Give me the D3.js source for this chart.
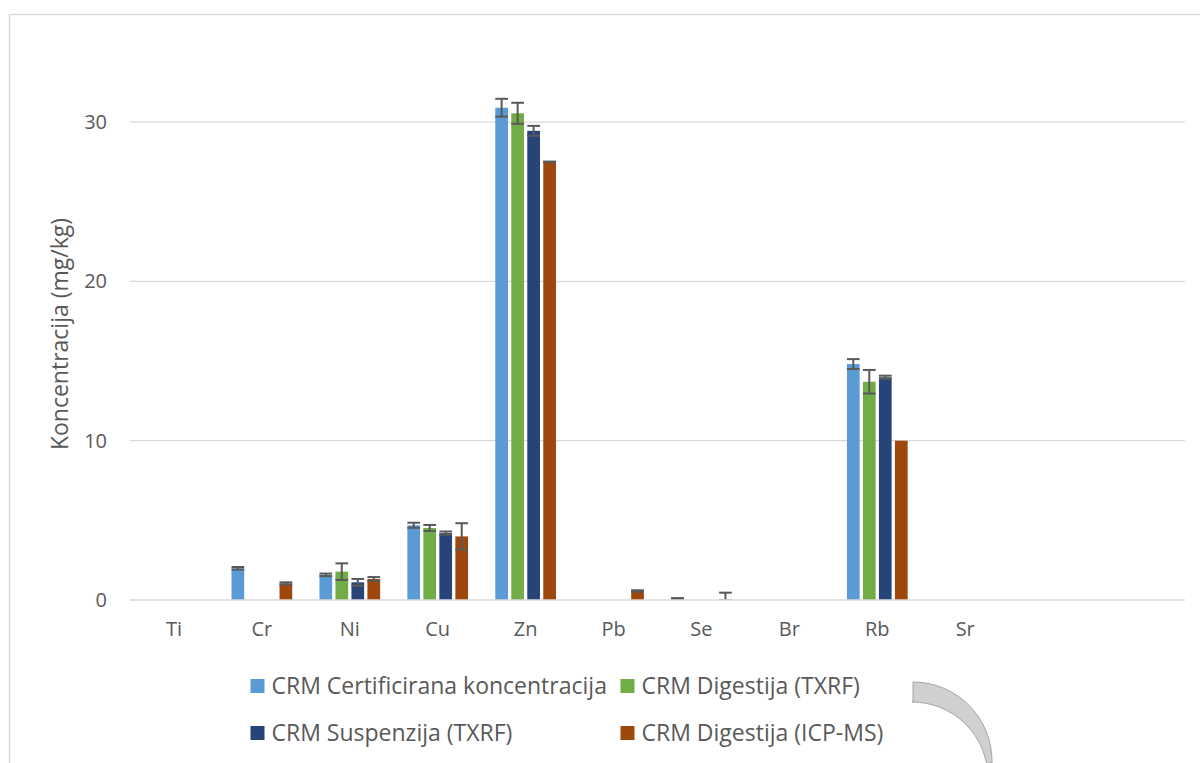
<!DOCTYPE html>
<html><head><meta charset="utf-8">
<script src="https://cdn.jsdelivr.net/npm/d3@7"></script>
<style>html,body{margin:0;padding:0;background:#fff;}svg{display:block;}</style>
</head><body>
<script>
// ---- data ----
const categories = ["Ti","Cr","Ni","Cu","Zn","Pb","Se","Br","Rb","Sr","",""];
const seriesNames = ["CRM Certificirana koncentracija","CRM Digestija (TXRF)","CRM Suspenzija (TXRF)","CRM Digestija (ICP-MS)"];
const certified     = [0, 1.99, 1.58, 4.69, 30.9, 0, 0.1, 0, 14.81, 0, null, null];
const certifiedErr  = [0, 0.08, 0.08, 0.16, 0.56, 0, 0.02, 0, 0.31, 0, null, null];
const digestTXRF    = [0, 0, 1.78, 4.52, 30.55, 0, 0, 0, 13.7, 0, null, null];
const digestTXRFErr = [0, 0, 0.52, 0.19, 0.66, 0, 0, 0, 0.74, 0, null, null];
const suspension    = [0, 0, 1.11, 4.2, 29.45, 0, 0, 0, 13.98, 0, null, null];
const suspensionErr = [0, 0, 0.21, 0.1, 0.31, 0, 0, 0, 0.1, 0, null, null];
const icpms         = [0, 1.04, 1.32, 3.99, 27.5, 0.57, 0.04, 0, 10.0, 0, null, null];
const icpmsErr      = [0, 0.07, 0.12, 0.83, 0.02, 0.04, 0.42, 0, 0, 0, null, null];
const yTicks = [0, 10, 20, 30];
const colors = ["#5B9BD5","#70AD47","#264478","#9E480E"];

const values = [certified, digestTXRF, suspension, icpms];
const errors = [certifiedErr, digestTXRFErr, suspensionErr, icpmsErr];

// ---- layout ----
const W = 1200, H = 763;
const plot = {left: 130, right: 1185, top: 42.4, bottom: 600};
const svg = d3.select("body").append("svg").attr("width", W).attr("height", H);
const font = "'Open Sans', sans-serif";
const textColor = "#595959";

// chart border
svg.append("path").attr("d", "M9.5," + H + "V14.5H" + W)
  .attr("fill","none").attr("stroke","#d9d9d9").attr("stroke-width",1.5);

const x0 = d3.scaleBand().domain(d3.range(categories.length)).range([plot.left, plot.right]).padding(0);
const groupW = 60.7;
const x1 = d3.scaleBand().domain(d3.range(seriesNames.length)).range([0, groupW]).paddingInner(0.206).paddingOuter(0);
const y = d3.scaleLinear().domain([0, 35]).range([plot.bottom, plot.top]);

// gridlines
svg.append("g").selectAll("line").data(yTicks.filter(t => t > 0)).join("line")
  .attr("x1", plot.left).attr("x2", plot.right)
  .attr("y1", d => y(d)).attr("y2", d => y(d))
  .attr("stroke", "#d9d9d9").attr("stroke-width", 1.3);

// y axis labels
const yAxis = d3.axisLeft(y).tickValues(yTicks).tickSize(0).tickPadding(0);
const gy = svg.append("g").attr("transform", `translate(${plot.left - 23},0)`).call(yAxis);
gy.select(".domain").remove();
gy.selectAll("text").attr("font-family", font).attr("font-size", 20).attr("fill", textColor);

// bars
const groups = svg.append("g").selectAll("g").data(categories.map((c, i) => i)).join("g")
  .attr("transform", i => `translate(${x0(i) + (x0.bandwidth() - groupW) / 2},0)`);

groups.selectAll("rect").data(i => values.map((arr, s) => ({s, v: arr[i]})).filter(d => d.v != null && d.v > 0))
  .join("rect")
  .attr("x", d => x1(d.s)).attr("width", x1.bandwidth())
  .attr("y", d => y(d.v)).attr("height", d => y(0) - y(d.v))
  .attr("fill", d => colors[d.s]);

// error bars
const errData = i => values.map((arr, s) => ({s, v: arr[i], e: errors[s][i]}))
  .filter(d => d.v != null && d.e != null && d.e > 0);
const eb = groups.selectAll("g.err").data(errData).join("g").attr("class","err")
  .attr("stroke", "#595959").attr("stroke-width", 2);
eb.append("line")
  .attr("x1", d => x1(d.s) + x1.bandwidth()/2).attr("x2", d => x1(d.s) + x1.bandwidth()/2)
  .attr("y1", d => y(d.v + d.e)).attr("y2", d => y(Math.max(0, d.v - d.e)));
eb.append("line")
  .attr("x1", d => x1(d.s)).attr("x2", d => x1(d.s) + x1.bandwidth())
  .attr("y1", d => y(d.v + d.e)).attr("y2", d => y(d.v + d.e));
eb.filter(d => d.v - d.e >= 0).append("line")
  .attr("x1", d => x1(d.s)).attr("x2", d => x1(d.s) + x1.bandwidth())
  .attr("y1", d => y(d.v - d.e)).attr("y2", d => y(d.v - d.e));

// x axis baseline
svg.append("line").attr("x1", plot.left).attr("x2", plot.right)
  .attr("y1", y(0)).attr("y2", y(0)).attr("stroke", "#d9d9d9").attr("stroke-width", 1.5);

// x axis labels
const xAxis = d3.axisBottom(x0).tickFormat(i => categories[i]).tickSize(0).tickPadding(0);
const gx = svg.append("g").attr("transform", `translate(0,${plot.bottom + 22})`).call(xAxis);
gx.select(".domain").remove();
gx.selectAll("text").attr("font-family", font).attr("font-size", 20).attr("fill", textColor);

// y title
svg.append("text").attr("transform", `translate(68,334) rotate(-90)`)
  .attr("text-anchor", "middle").attr("font-family", font).attr("font-size", 23)
  .attr("fill", textColor).text("Koncentracija (mg/kg)");

// legend
const legendPos = [[250.5, 686], [620.5, 686], [250.5, 733], [620.5, 733]];
const lg = svg.append("g").selectAll("g").data(seriesNames).join("g")
  .attr("transform", (d, i) => `translate(${legendPos[i][0]},${legendPos[i][1]})`);
lg.append("rect").attr("x", 0).attr("y", -7).attr("width", 14).attr("height", 14).attr("fill", (d, i) => colors[i]);
lg.append("text").attr("x", 21).attr("y", 0).attr("dy", "0.36em")
  .attr("font-family", font).attr("font-size", 23).attr("fill", textColor).text(d => d);

// decorative block arc (bottom right)
const p = d3.path();
p.moveTo(913, 682);
p.arcTo(992, 682, 992, 763, 79);
p.lineTo(992, 763);
p.lineTo(988, 763);
p.arcTo(988, 702, 913, 702, 76);
p.lineTo(913, 702);
p.closePath();
svg.append("path").attr("d", p.toString()).attr("fill", "#d0d0d0").attr("stroke", "#a6a6a6").attr("stroke-width", 1);
</script>
</body></html>
